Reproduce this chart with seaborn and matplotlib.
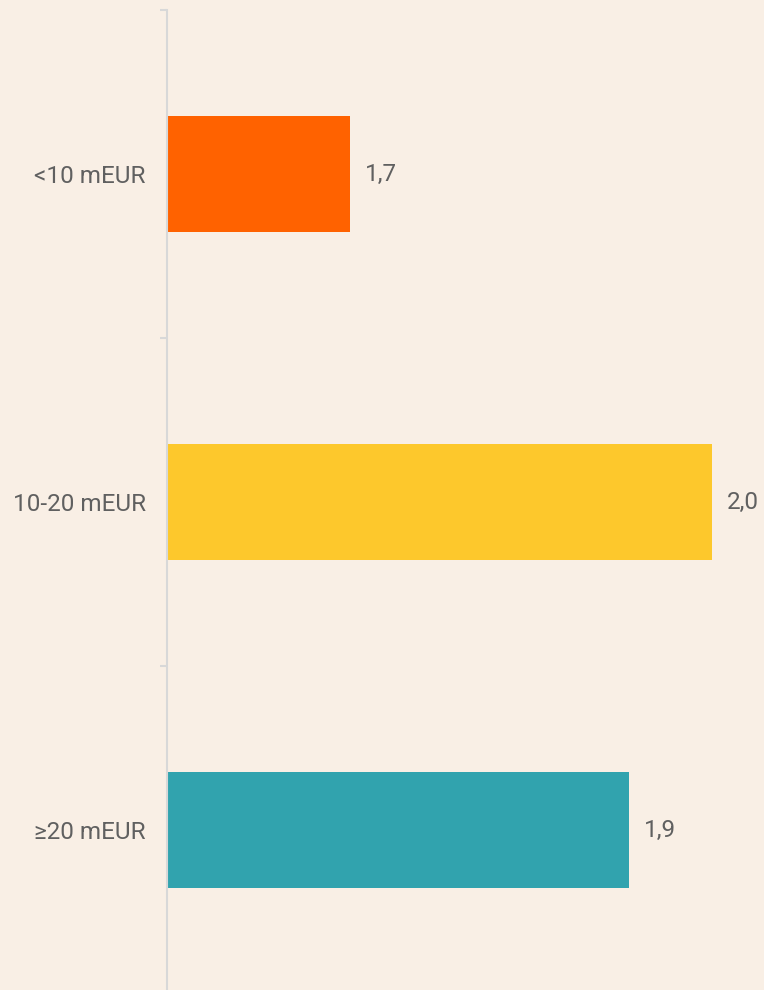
import matplotlib
matplotlib.use("Agg")
import matplotlib.pyplot as plt
import seaborn as sns
import pandas as pd

categories = ["<10 mEUR", "10-20 mEUR", "≥20 mEUR"]
values = [1.72, 1.957, 1.903]
value_labels = ["1,7", "2,0", "1,9"]
colors = ["#FF6200", "#FDC82C", "#31A3AE"]

BG = "#F9EFE5"
TXT = "#606060"

sns.set_theme(style="white")
plt.rcParams["font.family"] = ["Roboto", "DejaVu Sans"]

df = pd.DataFrame({"cat": categories, "val": values})

fig = plt.figure(figsize=(7.64, 9.9), dpi=100, facecolor=BG)
ax = fig.add_axes([166.5 / 764, (990 - 994) / 990, 1 - 166.5 / 764, 984 / 990])
ax.set_facecolor(BG)

sns.barplot(data=df, y="cat", x="val", hue="cat", palette=colors,
            orient="h", width=0.355, legend=False, ax=ax, saturation=1,
            linewidth=0)

ax.set_xlim(1.6, 1.6 + (764 - 166.5) / 1528)
ax.set_ylim(2.5, -0.5)

for cont, lab in zip(ax.containers, value_labels):
    ax.bar_label(cont, labels=[lab], padding=10.5, fontsize=17.5, color=TXT, clip_on=False)

for s in ["top", "right", "bottom"]:
    ax.spines[s].set_visible(False)
ax.spines["left"].set_color("#D8D8D8")
ax.spines["left"].set_linewidth(1.5)

ax.set_xticks([])
ax.set_xlabel("")
ax.set_ylabel("")
ax.set_yticks(range(len(categories)))
ax.set_yticklabels(categories, fontsize=17.5, color=TXT)
ax.tick_params(axis="y", which="major", length=0, pad=15)
ax.set_yticks([-0.5, 0.5, 1.5, 2.5], minor=True)
ax.tick_params(axis="y", which="minor", length=5, width=1.5, color="#D8D8D8", left=True)

fig.savefig("out.png", dpi=100, facecolor=BG)
